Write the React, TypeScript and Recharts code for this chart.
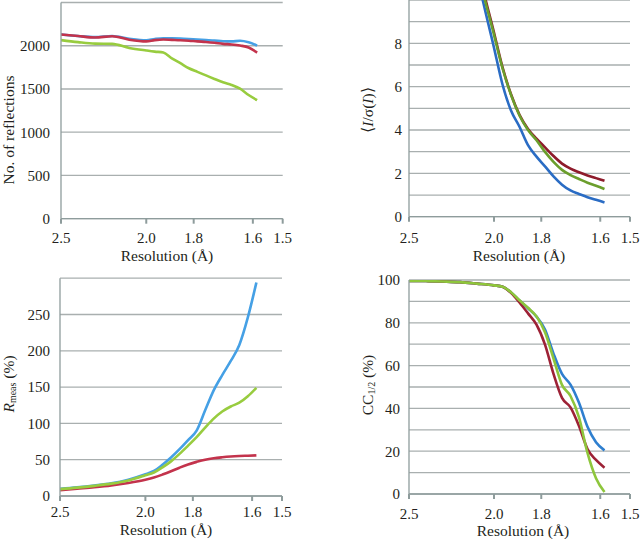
import React from 'react';
import { LineChart, Line, XAxis, YAxis, CartesianGrid } from 'recharts';

// x = 1/d (Å⁻¹), resolution shells
const invRes = [0.4, 0.42, 0.44, 0.46, 0.48, 0.5, 0.51, 0.52, 0.53, 0.54, 0.55, 0.56, 0.57, 0.58, 0.59, 0.6, 0.61, 0.62, 0.63];
const xTickValues = [0.4, 0.5, 0.5556, 0.625, 0.66];
const xTickLabels = ['2.5', '2.0', '1.8', '1.6', '1.5'];

// No. of reflections
const reflBlue = [2130, 2112, 2100, 2112, 2080, 2062, 2078, 2087, 2086, 2083, 2078, 2072, 2066, 2060, 2052, 2050, 2057, 2040, 2002];
const reflRed = [2130, 2112, 2095, 2110, 2070, 2050, 2065, 2072, 2068, 2064, 2058, 2050, 2044, 2035, 2022, 2015, 2002, 1980, 1920];
const reflGreen = [2065, 2042, 2025, 2022, 1975, 1945, 1932, 1922, 1855, 1798, 1740, 1698, 1657, 1616, 1577, 1547, 1503, 1430, 1370];

// <I/sigma(I)>
const isigBlue = [38, 29, 22, 15.5, 11.2, 7.8, 6.1, 4.9, 4.15, 3.3, 2.77, 2.32, 1.86, 1.48, 1.21, 1.05, 0.9, 0.78, 0.66];
const isigRed = [41, 31, 23.5, 17, 11.8, 8.5, 6.9, 5.65, 4.7, 4.05, 3.6, 3.2, 2.8, 2.45, 2.22, 2.05, 1.9, 1.78, 1.66];
const isigGreen = [40, 30, 23, 16.5, 11.6, 8.4, 6.85, 5.62, 4.67, 4.0, 3.53, 2.99, 2.53, 2.16, 1.92, 1.74, 1.57, 1.43, 1.28];

// Rmeas (%)
const rmeasBlue = [10, 12, 14.5, 17.5, 22.5, 30, 34.5, 43, 53, 64.5, 77, 90, 118, 145.5, 166.5, 186, 208, 246, 294];
const rmeasRed = [8, 10, 12, 14.5, 18, 22.5, 25.5, 29.5, 34, 39, 43.5, 47, 50, 52, 53.3, 54.3, 55, 55.5, 56];
const rmeasGreen = [9.5, 11.5, 14, 17, 21.5, 28.5, 32.3, 39.4, 47.7, 58, 69.3, 81, 94.2, 106.6, 116.4, 123.3, 128.5, 137.4, 149];

// CC1/2 (%)
const ccBlue = [99.6, 99.5, 99.3, 99.0, 98.3, 97.5, 96.9, 94.2, 90.4, 86.8, 82.9, 76.9, 65.6, 56.1, 51.1, 42.6, 31.4, 24.2, 20.4];
const ccRed = [99.6, 99.5, 99.3, 99.0, 98.3, 97.5, 96.9, 94, 89.5, 84.4, 79.1, 69.8, 56.1, 44.9, 40.5, 31.8, 21, 15.9, 12.3];
const ccGreen = [99.6, 99.5, 99.3, 99.0, 98.3, 97.5, 96.9, 94.3, 90.5, 87, 83, 75.6, 63.3, 51, 45.8, 35.8, 19.2, 7.4, 0.9];

const FONT = "'Liberation Serif', 'Times New Roman', serif";
const TEXT = '#231f20';
const GRID = '#a9afaf';
const AXIS = '#8e9c9c';

type Row = { x: number; blue: number; red: number; green: number };

const rows = (b: number[], r: number[], g: number[]): Row[] =>
  invRes.map((x, i) => ({ x, blue: b[i], red: r[i], green: g[i] }));

const range = (from: number, to: number, step: number) => {
  const out: number[] = [];
  for (let v = from; v <= to + 1e-9; v += step) out.push(v);
  return out;
};

interface PanelProps {
  left: number;
  top: number;
  width: number;
  height: number;
  plot: { l: number; t: number; r: number; b: number };
  data: Row[];
  yDomain: [number, number];
  yTicks: number[];
  yShown: (v: number) => boolean;
  yTickGap: number;
  xTickGap: number;
  xTitleX: number;
  xTitleDy: number;
  yTitle: React.ReactNode;
  yTitleX: number;
  yTitleY: number;
  colors: { blue: string; red: string; green: string };
}

function Panel(p: PanelProps) {
  const { plot } = p;
  const yTitle = () => (
    <text
      x={p.yTitleX}
      y={p.yTitleY}
      transform={`rotate(-90 ${p.yTitleX} ${p.yTitleY})`}
      textAnchor="middle"
      dominantBaseline="central"
      fill={TEXT}
      fontSize={15.5}
      fontFamily={FONT}
    >
      {p.yTitle}
    </text>
  );
  return (
    <div style={{ position: 'absolute', left: p.left, top: p.top, width: p.width, height: p.height }}>
      <LineChart
        width={p.width}
        height={p.height}
        data={p.data}
        margin={{ top: plot.t, right: p.width - plot.r, bottom: 0, left: 0 }}
      >
        <CartesianGrid vertical={false} stroke={GRID} strokeWidth={1.3} />
        <XAxis
          type="number"
          dataKey="x"
          domain={[0.4, 0.66]}
          ticks={xTickValues}
          allowDataOverflow
          height={p.height - plot.b}
          tickFormatter={(v: number) => xTickLabels[xTickValues.indexOf(v)] ?? ''}
          axisLine={{ stroke: AXIS, strokeWidth: 1.3 }}
          tickLine={{ stroke: AXIS, strokeWidth: 2 }}
          tickSize={5}
          tickMargin={p.xTickGap}
          tick={{ fill: TEXT, fontSize: 15, fontFamily: FONT }}
        />
        <YAxis
          type="number"
          domain={p.yDomain}
          ticks={p.yTicks}
          allowDataOverflow
          width={plot.l}
          tickFormatter={(v: number) => (p.yShown(v) ? String(v) : '')}
          axisLine={{ stroke: AXIS, strokeWidth: 1.3 }}
          tickLine={false}
          tickSize={0}
          tickMargin={p.yTickGap}
          tick={{ fill: TEXT, fontSize: 15, fontFamily: FONT }}
          label={yTitle}
        />
        <Line type="monotone" dataKey="blue" stroke={p.colors.blue} strokeWidth={2.6} dot={false} isAnimationActive={false} />
        <Line type="monotone" dataKey="red" stroke={p.colors.red} strokeWidth={2.6} dot={false} isAnimationActive={false} />
        <Line type="monotone" dataKey="green" stroke={p.colors.green} strokeWidth={2.6} dot={false} isAnimationActive={false} />
      </LineChart>
      <div
        style={{
          position: 'absolute',
          left: p.xTitleX - 80,
          width: 160,
          top: plot.b + p.xTitleDy - 9,
          height: 18,
          lineHeight: '18px',
          textAlign: 'center',
          fontFamily: FONT,
          fontSize: 15.5,
          color: TEXT,
          whiteSpace: 'nowrap',
          pointerEvents: 'none',
        }}
      >
        Resolution (Å)
      </div>
    </div>
  );
}

const lightColors = { blue: '#45a0e5', red: '#c3334c', green: '#98cc3f' };
const darkColors = { blue: '#2a6cc4', red: '#8e1b2b', green: '#6b9e2c' };
const ccColors = { blue: '#2f7fcf', red: '#9d2236', green: '#8ec63c' };

export default function App() {
  return (
    <div style={{ position: 'absolute', left: 0, top: 0, width: 640, height: 539, background: '#fff' }}>
      <Panel
        left={0}
        top={0}
        width={320}
        height={270}
        plot={{ l: 61, t: 2.5, r: 282.7, b: 218.7 }}
        data={rows(reflBlue, reflRed, reflGreen)}
        yDomain={[0, 2500]}
        yTicks={range(0, 2500, 500)}
        yShown={(v) => v < 2500}
        yTickGap={11}
        xTickGap={8.5}
        xTitleX={167}
        xTitleDy={37}
        yTitle="No. of reflections"
        yTitleX={8}
        yTitleY={130}
        colors={lightColors}
      />
      <Panel
        left={320}
        top={0}
        width={320}
        height={270}
        plot={{ l: 89, t: 0, r: 310, b: 216.7 }}
        data={rows(isigBlue, isigRed, isigGreen)}
        yDomain={[0, 10]}
        yTicks={range(0, 10, 1)}
        yShown={(v) => v % 2 === 0 && v < 10}
        yTickGap={7}
        xTickGap={10.5}
        xTitleX={199}
        xTitleDy={39}
        yTitle={
          <>
            <tspan>⟨</tspan>
            <tspan fontStyle="italic">I</tspan>
            <tspan>/σ(</tspan>
            <tspan fontStyle="italic">I</tspan>
            <tspan>)⟩</tspan>
          </>
        }
        yTitleX={47}
        yTitleY={110}
        colors={darkColors}
      />
      <Panel
        left={0}
        top={270}
        width={320}
        height={269}
        plot={{ l: 60, t: 8.2, r: 282, b: 226 }}
        data={rows(rmeasBlue, rmeasRed, rmeasGreen)}
        yDomain={[0, 300]}
        yTicks={range(0, 300, 50)}
        yShown={(v) => v < 300}
        yTickGap={10}
        xTickGap={5.5}
        xTitleX={166}
        xTitleDy={34}
        yTitle={
          <>
            <tspan fontStyle="italic">R</tspan>
            <tspan fontSize={10} dy={4}>meas</tspan>
            <tspan dy={-4}> (%)</tspan>
          </>
        }
        yTitleX={8}
        yTitleY={114}
        colors={lightColors}
      />
      <Panel
        left={320}
        top={270}
        width={320}
        height={269}
        plot={{ l: 89, t: 10, r: 310, b: 224 }}
        data={rows(ccBlue, ccRed, ccGreen)}
        yDomain={[0, 100]}
        yTicks={range(0, 100, 10)}
        yShown={(v) => v % 20 === 0}
        yTickGap={9}
        xTickGap={9}
        xTitleX={203}
        xTitleDy={36.5}
        yTitle={
          <>
            <tspan>CC</tspan>
            <tspan fontSize={10} dy={4}>1/2</tspan>
            <tspan dy={-4}> (%)</tspan>
          </>
        }
        yTitleX={47}
        yTitleY={115}
        colors={ccColors}
      />
    </div>
  );
}
